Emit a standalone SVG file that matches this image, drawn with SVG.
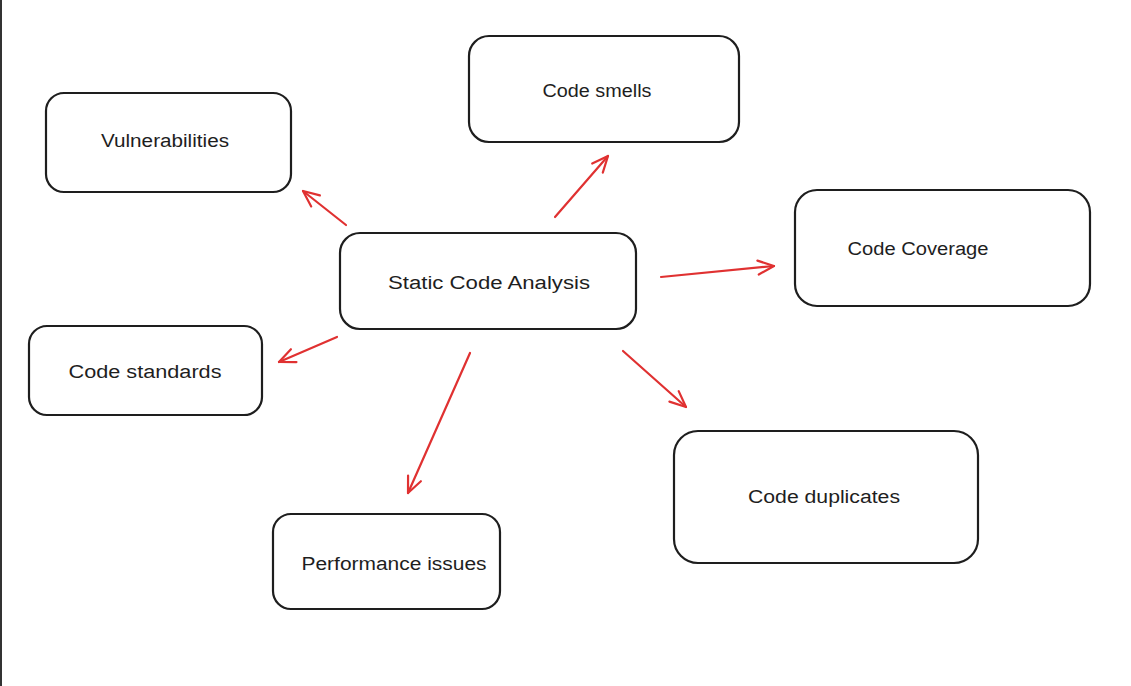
<svg xmlns="http://www.w3.org/2000/svg" width="1131" height="686" viewBox="0 0 1131 686">
<style>
.box{fill:#ffffff;stroke:#1e1e1e;stroke-width:2.2}
.lbl{font-family:"Liberation Sans",Lato,sans-serif;font-size:18px;fill:#1e1e1e;text-anchor:middle}
.arr{stroke:#e03131;stroke-width:2.2;fill:none;stroke-linecap:round;marker-end:url(#head)}
</style>
<defs>
<marker id="head" markerUnits="userSpaceOnUse" viewBox="0 0 20 20" refX="18" refY="10" markerWidth="20" markerHeight="20" orient="auto">
<path d="M2,3 L18,10 L2,17" fill="none" stroke="#e03131" stroke-width="2.2" stroke-linecap="round" stroke-linejoin="round"/>
</marker>
</defs>
<rect x="0" y="0" width="1131" height="686" fill="#ffffff"/>
<line x1="1" y1="0" x2="1" y2="686" stroke="#333333" stroke-width="2"/>
<g id="connectors">
<line class="arr" x1="346" y1="225" x2="303" y2="191"/>
<line class="arr" x1="555" y1="217" x2="608" y2="156"/>
<line class="arr" x1="661" y1="277" x2="774" y2="266"/>
<line class="arr" x1="337" y1="337" x2="279" y2="362"/>
<line class="arr" x1="470" y1="353" x2="408" y2="493"/>
<line class="arr" x1="623" y1="351" x2="686" y2="407"/>
</g>
<g id="node-static">
<rect class="box" x="340" y="233" width="296" height="96" rx="20"/>
<text class="lbl" x="489" y="289" textLength="202" lengthAdjust="spacingAndGlyphs">Static Code Analysis</text>
</g>
<g id="node-vulnerabilities">
<rect class="box" x="46" y="93" width="245" height="99" rx="18"/>
<text class="lbl" x="165" y="147" textLength="128" lengthAdjust="spacingAndGlyphs">Vulnerabilities</text>
</g>
<g id="node-smells">
<rect class="box" x="469" y="36" width="270" height="106" rx="20"/>
<text class="lbl" x="597" y="97" textLength="109" lengthAdjust="spacingAndGlyphs">Code smells</text>
</g>
<g id="node-coverage">
<rect class="box" x="795" y="190" width="295" height="116" rx="22"/>
<text class="lbl" x="918" y="255" textLength="141" lengthAdjust="spacingAndGlyphs">Code Coverage</text>
</g>
<g id="node-standards">
<rect class="box" x="29" y="326" width="233" height="89" rx="18"/>
<text class="lbl" x="145" y="378" textLength="153" lengthAdjust="spacingAndGlyphs">Code standards</text>
</g>
<g id="node-performance">
<rect class="box" x="273" y="514" width="227" height="95" rx="18"/>
<text class="lbl" x="394" y="570" textLength="185" lengthAdjust="spacingAndGlyphs">Performance issues</text>
</g>
<g id="node-duplicates">
<rect class="box" x="674" y="431" width="304" height="132" rx="24"/>
<text class="lbl" x="824" y="503" textLength="152" lengthAdjust="spacingAndGlyphs">Code duplicates</text>
</g>
</svg>
